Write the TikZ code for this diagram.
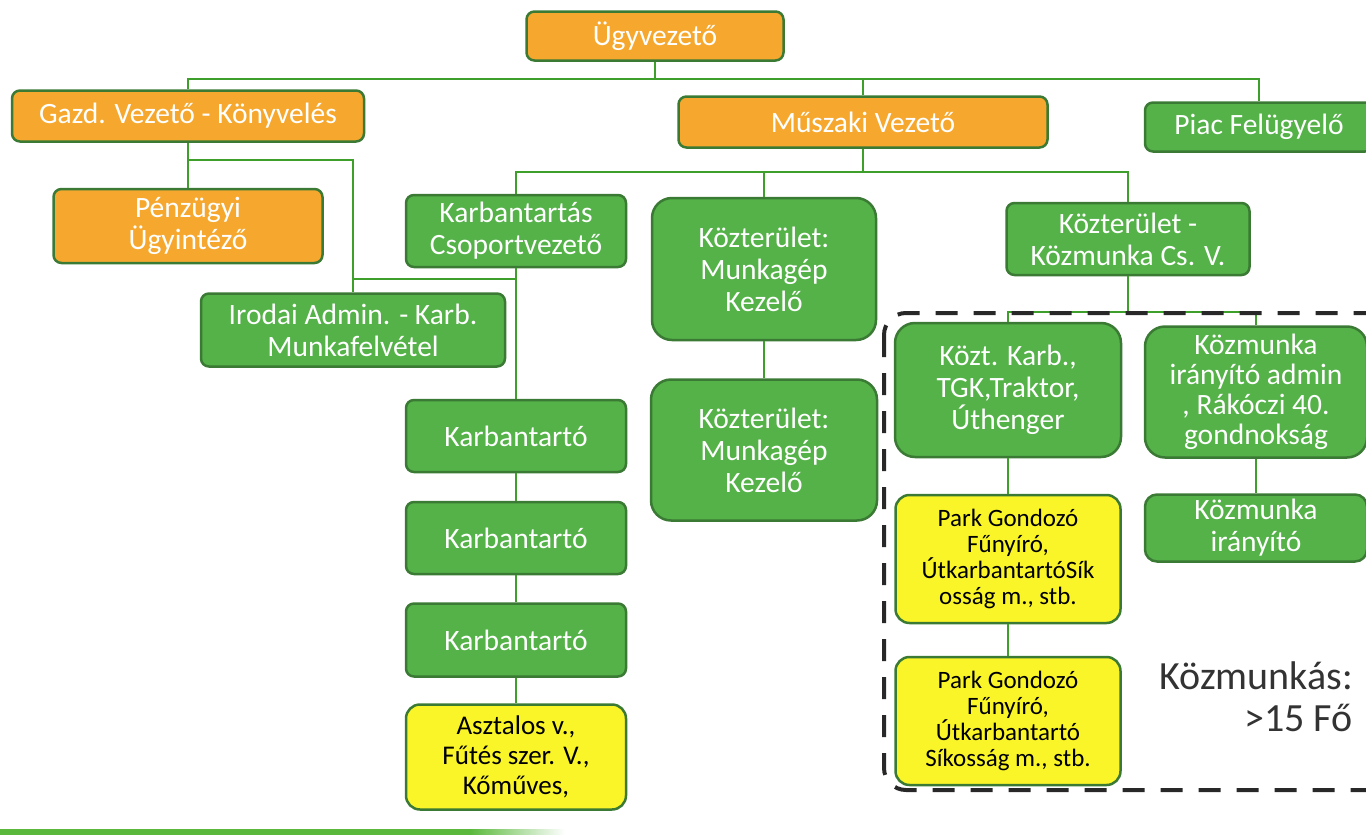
\documentclass[tikz,border=0pt]{standalone}
\usepackage{fontspec}
\setmainfont{Carlito}
\definecolor{org}{RGB}{246,168,46}
\definecolor{grn}{RGB}{84,178,72}
\definecolor{brd}{RGB}{58,122,52}
\definecolor{ylw}{RGB}{250,245,40}
\definecolor{lin}{RGB}{62,160,42}
\definecolor{dsh}{RGB}{40,40,40}
\definecolor{barg}{RGB}{90,185,60}
\begin{document}
\begin{tikzpicture}[x=1pt,y=-1pt,
 box/.style={draw=brd, line width=2.5pt, rounded corners=8pt, align=center, inner sep=0pt, font=\fontsize{29.5}{32}\selectfont, text=white},
 obox/.style={box, fill=org},
 gbox/.style={box, fill=grn},
 bigbox/.style={gbox, rounded corners=20pt},
 ybox/.style={box, fill=ylw, text=black, rounded corners=14pt},
 conn/.style={draw=lin, line width=1.8pt},
 dashbox/.style={draw=dsh, line width=4pt, dash pattern=on 22pt off 16pt, rounded corners=22pt},
]
\useasboundingbox (0,0) rectangle (1366,835);

% top level
\node[obox, minimum width=257pt, minimum height=49pt] (ugy) at (655,36) {Ügyvezető};
\node[obox, minimum width=352pt, minimum height=51pt] (gazd) at (188,116) {Gazd. Vezető - Könyvelés};
\node[obox, minimum width=369pt, minimum height=51pt] (musz) at (863,122) {Műszaki Vezető};
\node[gbox, minimum width=228pt, minimum height=49pt] (piac) at (1259,127) {Piac Felügyelő};

% second level
\node[obox, minimum width=269pt, minimum height=74pt] (penz) at (188,226) {Pénzügyi\\Ügyintéző};
\node[gbox, minimum width=220pt, minimum height=72pt] (karbcs) at (516,231) {Karbantartás\\Csoportvezető};
\node[bigbox, minimum width=224pt, minimum height=142pt] (kozt1) at (764,269) {Közterület:\\Munkagép\\Kezelő};
\node[gbox, minimum width=243pt, minimum height=72pt] (kkcs) at (1128,239) {Közterület -\\Közmunka Cs. V.};

\node[gbox, minimum width=304pt, minimum height=73pt] (irod) at (353,330) {Irodai Admin. - Karb.\\Munkafelvétel};
\node[bigbox, minimum width=226pt, minimum height=141pt] (kozt2) at (764,450) {Közterület:\\Munkagép\\Kezelő};

\node[gbox, minimum width=220pt, minimum height=72pt] (karb1) at (516,436) {Karbantartó};
\node[gbox, minimum width=220pt, minimum height=72pt] (karb2) at (516,538) {Karbantartó};
\node[gbox, minimum width=220pt, minimum height=73pt] (karb3) at (516,640) {Karbantartó};
\node[ybox, minimum width=220pt, minimum height=105pt, font=\fontsize{27}{30}\selectfont] (aszt) at (516,757) {Asztalos v.,\\Fűtés szer. V.,\\Kőműves,};

% right group
\node[bigbox, minimum width=226pt, minimum height=134pt] (kkarb) at (1008,390) {Közt. Karb.,\\TGK,Traktor,\\Úthenger};
\node[bigbox, minimum width=222pt, minimum height=131pt, font=\fontsize{29.5}{30}\selectfont] (kadm) at (1256,392) {Közmunka\\irányító admin\\, Rákóczi 40.\\gondnokság};
\node[ybox, minimum width=225pt, minimum height=128pt, font=\fontsize{25}{26}\selectfont] (park1) at (1008,559) {Park Gondozó\\Fűnyíró,\\ÚtkarbantartóSík\\osság m., stb.};
\node[ybox, minimum width=225pt, minimum height=128pt, font=\fontsize{25}{26}\selectfont] (park2) at (1008,721) {Park Gondozó\\Fűnyíró,\\Útkarbantartó\\Síkosság m., stb.};
\node[bigbox, rounded corners=12pt, minimum width=222pt, minimum height=67pt] (kirany) at (1256,528) {Közmunka\\irányító};

\node[anchor=north east, align=right, inner sep=0pt, text=black!80, font=\fontsize{40}{42}\selectfont] (kozm) at (1353,662) {Közmunkás:\\>15 Fő};

% connectors
\coordinate (j0) at (655,79);
\draw[conn] (ugy.south) -- (j0);
\draw[conn] (gazd.north) |- (j0);
\draw[conn] (musz.north) |- (j0);
\draw[conn] (piac.north) |- (j0);

\coordinate (j1) at (188,160);
\draw[conn] (gazd.south) -- (penz.north);
\draw[conn] (j1) -| (irod.north);
\coordinate (j2) at (516,279);
\draw[conn] (j2) -| (irod.north);

\coordinate (j3) at (863,172);
\draw[conn] (musz.south) -- (j3);
\draw[conn] (karbcs.north) |- (j3);
\draw[conn] (kozt1.north) |- (j3);
\draw[conn] (kkcs.north) |- (j3);

\draw[conn] (kozt1.south) -- (kozt2.north);
\draw[conn] (karbcs.south) -- (karb1.north);
\draw[conn] (karb1.south) -- (karb2.north);
\draw[conn] (karb2.south) -- (karb3.north);
\draw[conn] (karb3.south) -- (aszt.north);

\coordinate (j4) at (1128,312);
\draw[conn] (kkcs.south) -- (j4);
\draw[conn] (kkarb.north) |- (j4);
\draw[conn] (kadm.north) |- (j4);
\draw[conn] (kkarb.south) -- (park1.north);
\draw[conn] (park1.south) -- (park2.north);
\draw[conn] (kadm.south) -- (kirany.north);

% dashed group frame
\draw[dashbox] (884,313) rectangle (1400,790);

% bottom bar
\fill[barg] (0,829) rectangle (470,835);
\shade[left color=barg, right color=white] (470,829) rectangle (565,835);
\end{tikzpicture}
\end{document}
